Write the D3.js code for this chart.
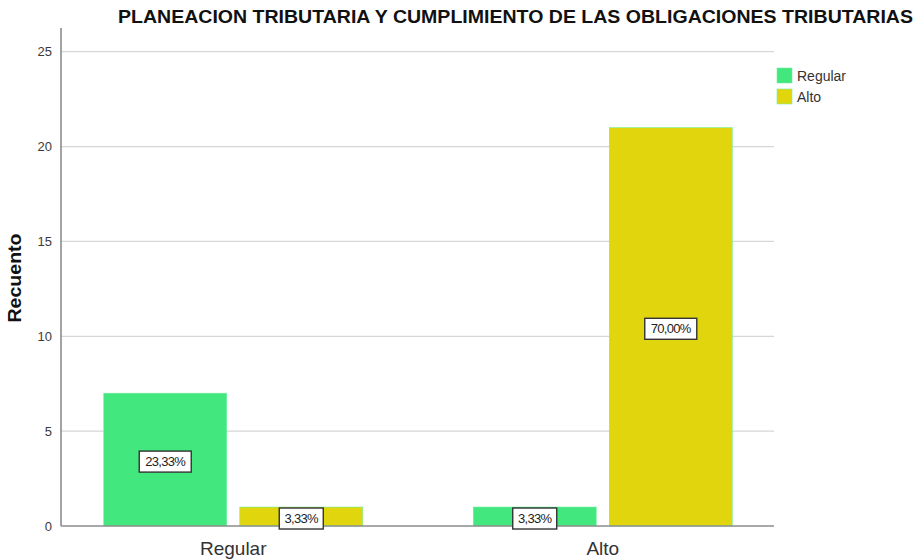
<!DOCTYPE html>
<html>
<head>
<meta charset="utf-8">
<script src="https://cdn.jsdelivr.net/npm/d3@7"></script>
<style>
  body { margin: 0; background: #fff; }
  text { font-family: "Liberation Sans", Arial, sans-serif; }
</style>
</head>
<body>
<div id="chart"></div>
<script>
// Datos del grafico
var categories = ["Regular", "Alto"];
var series = ["Regular", "Alto"];
var regularValues = [7, 1];
var altoValues = [1, 21];
var regularLabels = ["23,33%", "3,33%"];
var altoLabels = ["3,33%", "70,00%"];
var yTicks = [0, 5, 10, 15, 20, 25];
var colors = ["#42e77d", "#e1d50e"];

var svgWidth = 918;
var svgHeight = 559;
var plotLeft = 61, plotRight = 774, plotTop = 28, plotBottom = 526;

var svg = d3.select("#chart")
    .append("svg")
    .attr("width", svgWidth)
    .attr("height", svgHeight);

// Escalas
var y = d3.scaleLinear().domain([0, 26.25]).range([plotBottom, plotTop]);
var x0 = d3.scaleBand().domain(categories).range([48.5, 787.5]);
var x1 = d3.scaleBand().domain(series).range([-129.5, 129.5]).paddingInner(0.096);

// Tabla de barras
var rows = [];
categories.forEach(function (c, i) {
    rows.push({ cat: c, ser: series[0], value: regularValues[i], label: regularLabels[i] });
    rows.push({ cat: c, ser: series[1], value: altoValues[i], label: altoLabels[i] });
});

// Lineas de cuadricula
svg.append("g")
    .selectAll("line")
    .data(yTicks.filter(function (d) { return d > 0; }))
    .enter().append("line")
    .attr("x1", plotLeft)
    .attr("x2", plotRight)
    .attr("y1", function (d) { return y(d); })
    .attr("y2", function (d) { return y(d); })
    .attr("stroke", "#d6d6d6")
    .attr("stroke-width", 1.2);

// Barras
svg.append("g")
    .selectAll("rect")
    .data(rows)
    .enter().append("rect")
    .attr("x", function (d) { return x0(d.cat) + x0.bandwidth() / 2 + x1(d.ser); })
    .attr("y", function (d) { return y(d.value); })
    .attr("width", x1.bandwidth())
    .attr("height", function (d) { return y(0) - y(d.value); })
    .attr("fill", function (d) { return colors[series.indexOf(d.ser)]; })
    .attr("stroke", "#6ff09c")
    .attr("stroke-width", 0.6);

// Ejes
svg.append("line")
    .attr("x1", plotLeft).attr("x2", plotLeft)
    .attr("y1", plotTop).attr("y2", plotBottom)
    .attr("stroke", "#8c8c8c").attr("stroke-width", 1.6);
svg.append("line")
    .attr("x1", plotLeft).attr("x2", plotRight)
    .attr("y1", plotBottom).attr("y2", plotBottom)
    .attr("stroke", "#8c8c8c").attr("stroke-width", 1.6);

// Etiquetas del eje Y
svg.append("g")
    .selectAll("text")
    .data(yTicks)
    .enter().append("text")
    .attr("x", plotLeft - 9)
    .attr("y", function (d) { return y(d); })
    .attr("dy", "0.35em")
    .attr("text-anchor", "end")
    .attr("font-size", 13)
    .attr("fill", "#3a3a3a")
    .text(function (d) { return d; });

// Etiquetas del eje X
svg.append("g")
    .selectAll("text")
    .data(categories)
    .enter().append("text")
    .attr("x", function (d) { return x0(d) + x0.bandwidth() / 2; })
    .attr("y", 555)
    .attr("text-anchor", "middle")
    .attr("font-size", 19)
    .attr("fill", "#333")
    .text(function (d) { return d; });

// Etiquetas de porcentaje
var lab = svg.append("g")
    .selectAll("g")
    .data(rows)
    .enter().append("g")
    .attr("transform", function (d) {
        var cx = x0(d.cat) + x0.bandwidth() / 2 + x1(d.ser) + x1.bandwidth() / 2;
        var cy = (y(0) + y(d.value)) / 2 + 2;
        return "translate(" + cx + "," + cy + ")";
    });
lab.append("rect")
    .attr("x", function (d) { return d.label.length > 5 ? -26 : -22; })
    .attr("y", -10.5)
    .attr("width", function (d) { return d.label.length > 5 ? 52 : 44; })
    .attr("height", 21)
    .attr("fill", "#fff")
    .attr("stroke", "#333")
    .attr("stroke-width", 1.4);
lab.append("text")
    .attr("text-anchor", "middle")
    .attr("dy", "0.36em")
    .attr("font-size", 13)
    .attr("letter-spacing", -0.7)
    .attr("fill", "#222")
    .text(function (d) { return d.label; });

// Titulo
svg.append("text")
    .attr("x", 118)
    .attr("y", 23)
    .attr("font-size", 18.5)
    .attr("font-weight", "bold")
    .attr("textLength", 795)
    .attr("lengthAdjust", "spacingAndGlyphs")
    .attr("fill", "#111")
    .text("PLANEACION TRIBUTARIA Y CUMPLIMIENTO DE LAS OBLIGACIONES TRIBUTARIAS");

// Titulo del eje Y
svg.append("text")
    .attr("transform", "translate(21,278) rotate(-90)")
    .attr("text-anchor", "middle")
    .attr("font-size", 18)
    .attr("font-weight", "bold")
    .attr("textLength", 89)
    .attr("lengthAdjust", "spacingAndGlyphs")
    .attr("fill", "#111")
    .text("Recuento");

// Leyenda
var legend = svg.append("g")
    .selectAll("g")
    .data(series)
    .enter().append("g")
    .attr("transform", function (d, i) { return "translate(777," + (68 + i * 21) + ")"; });
legend.append("rect")
    .attr("width", 15)
    .attr("height", 15)
    .attr("fill", function (d, i) { return colors[i]; })
    .attr("stroke", "#6ff09c")
    .attr("stroke-width", 0.6);
legend.append("text")
    .attr("x", 20)
    .attr("y", 8)
    .attr("dy", "0.35em")
    .attr("font-size", 14)
    .attr("fill", "#333")
    .text(function (d) { return d; });
</script>
</body>
</html>
